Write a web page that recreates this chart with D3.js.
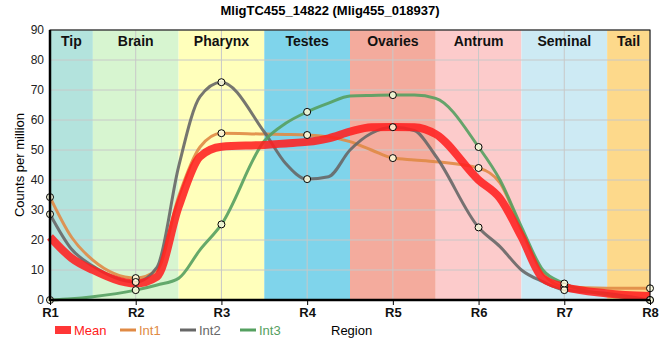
<!DOCTYPE html>
<html><head><meta charset="utf-8">
<script src="https://cdn.jsdelivr.net/npm/d3@7/dist/d3.min.js"></script>
<style>body{margin:0;background:#fff;font-family:"Liberation Sans",Arial,sans-serif}</style>
</head><body><svg id="c" width="660" height="360"></svg>
<script>
const title = "MligTC455_14822 (Mlig455_018937)";
const regions = ["R1","R2","R3","R4","R5","R6","R7","R8"];
const bandNames = ["Tip","Brain","Pharynx","Testes","Ovaries","Antrum","Seminal","Tail"];
const bandStart = [1,1.5,2.5,3.5,4.5,5.5,6.5,7.5];
const bandEnd   = [1.5,2.5,3.5,4.5,5.5,6.5,7.5,8];
const bandColors = ["#b3e3dd","#d7f5d0","#ffffbb","#7fd4eb","#f4ab9d","#fccbcb","#cdeaf4","#fdd98b"];
const yTicks = [0,10,20,30,40,50,60,70,80,90];
const pos   = [1,1.25,1.5,2,2.25,2.5,2.75,3,3.5,3.75,4,4.25,4.5,4.75,5,5.25,5.5,6,6.25,6.5,6.75,7,7.5,8];
const mean  = [21,14,10,5.5,7.8,31,47.8,51.1,51.7,52.2,52.7,53.9,56.1,57.6,57.7,57.6,55.3,40,33.9,21.1,7.2,4.4,2.2,1.3];
const int1  = [34.3,21,13.3,7.3,10,34.4,51,55.6,55.3,55.2,55,54.4,52.8,50,47.3,46.7,46.1,44,39,23.3,9,4.4,3.9,3.9];
const int2  = [28.6,17,11.3,6,11,44.4,67.8,72.6,56,45.5,40.3,41.1,50,55.6,57.6,56.5,48,24.2,17.8,10,6.1,3.3,2.2,0];
const int3  = [0,0.4,1.1,3.3,5,7.2,16.7,25.2,53,58.9,62.7,65.6,68,68.2,68.3,68.3,67.2,51,40,24.4,10,5.5,1.7,0];
const seriesNames = ["Mean","Int1","Int2","Int3"];
const seriesColors = ["#ff2020","#e08a45","#676767","#55a060"];

const svg = d3.select("#c");
const x = d3.scaleLinear().domain([1,8]).range([50,650]);
const y = d3.scaleLinear().domain([0,90]).range([300,30]);

// bands
svg.append("g").selectAll("rect").data(bandNames).join("rect")
  .attr("x",(d,i)=>x(bandStart[i])).attr("y",y(90))
  .attr("width",(d,i)=>x(bandEnd[i])-x(bandStart[i])).attr("height",y(0)-y(90))
  .attr("fill",(d,i)=>bandColors[i]);
// grid
svg.append("g").selectAll("line").data(yTicks).join("line")
  .attr("x1",x(1)).attr("x2",x(8)).attr("y1",d=>y(d)).attr("y2",d=>y(d))
  .attr("stroke","#c8c8c8").attr("stroke-width",1);
svg.append("g").selectAll("line").data(regions).join("line")
  .attr("x1",(d,i)=>x(i+1)).attr("x2",(d,i)=>x(i+1)).attr("y1",y(0)).attr("y2",y(90))
  .attr("stroke","#c8c8c8").attr("stroke-width",1);
// band labels
svg.append("g").selectAll("text").data(bandNames).join("text")
  .attr("x",(d,i)=>(x(bandStart[i])+x(bandEnd[i]))/2).attr("y",46)
  .attr("text-anchor","middle").attr("font-weight","bold").attr("font-size",14)
  .attr("fill","#111").text(d=>d);

// lines
const allSeries = [mean,int1,int2,int3];
const line = d3.line().x((d,i)=>x(pos[i])).y(d=>y(d)).curve(d3.curveMonotoneX);
const order = [1,2,3,0];
order.forEach(k=>{
  svg.append("path").datum(allSeries[k]).attr("d",line).attr("fill","none")
    .attr("stroke",seriesColors[k]).attr("stroke-width",k===0?8:3)
    .attr("stroke-opacity",k===0?0.88:0.9).attr("stroke-linejoin","round");
});
// dots at regions
[int1,int2,int3].forEach(s=>{
  const pts = pos.map((p,i)=>[p,s[i]]).filter(d=>Number.isInteger(d[0]));
  svg.append("g").selectAll("circle").data(pts).join("circle")
    .attr("cx",d=>x(d[0])).attr("cy",d=>y(d[1])).attr("r",3.5)
    .attr("fill","#ffffe0").attr("fill-opacity",0.85).attr("stroke","#000").attr("stroke-width",1);
});

// frame
svg.append("rect").attr("x",x(1)).attr("y",y(90)).attr("width",x(8)-x(1)).attr("height",y(0)-y(90))
  .attr("fill","none").attr("stroke","#000").attr("stroke-width",1);
svg.append("line").attr("x1",x(1)).attr("x2",x(1)).attr("y1",y(90)).attr("y2",y(0)+1)
  .attr("stroke","#000").attr("stroke-width",2.5);
svg.append("line").attr("x1",x(1)-1).attr("x2",x(8)).attr("y1",y(0)).attr("y2",y(0))
  .attr("stroke","#000").attr("stroke-width",2.5);

// axes
const yAxis = d3.axisLeft(y).tickValues(yTicks).tickSize(0).tickPadding(6);
const gy = svg.append("g").attr("transform",`translate(${x(1)},0)`).call(yAxis);
gy.select(".domain").remove();
gy.selectAll("text").attr("font-size",12).attr("font-family","Liberation Sans, Arial, sans-serif").attr("fill","#222");
const xAxis = d3.axisBottom(x).tickValues(d3.range(1,9)).tickFormat((d,i)=>regions[i]).tickSize(5).tickPadding(3);
const gx = svg.append("g").attr("transform",`translate(0,${y(0)})`).call(xAxis);
gx.select(".domain").remove();
gx.selectAll("line").attr("stroke","#000");
gx.selectAll("text").attr("font-size",13).attr("font-weight","bold").attr("font-family","Liberation Sans, Arial, sans-serif").attr("fill","#111");

// title & labels
svg.append("text").attr("x",330).attr("y",15).attr("text-anchor","middle")
  .attr("font-weight","bold").attr("font-size",13).text(title);
svg.append("text").attr("transform","translate(24,165) rotate(-90)").attr("text-anchor","middle")
  .attr("font-size",13).text("Counts per million");
svg.append("text").attr("x",331).attr("y",335).attr("font-size",13).text("Region");

// legend
const legX = [55,120,180,240];
seriesNames.forEach((n,k)=>{
  const g = svg.append("g").attr("transform",`translate(${legX[k]},330)`);
  if(k===0) g.append("rect").attr("x",0).attr("y",-4).attr("width",16).attr("height",8).attr("fill",seriesColors[0]).attr("fill-opacity",0.9);
  else g.append("line").attr("x1",0).attr("x2",16).attr("y1",0).attr("y2",0).attr("stroke",seriesColors[k]).attr("stroke-width",3);
  g.append("text").attr("x",19).attr("y",5).attr("font-size",13).attr("fill",seriesColors[k]).text(n);
});
</script></body></html>
